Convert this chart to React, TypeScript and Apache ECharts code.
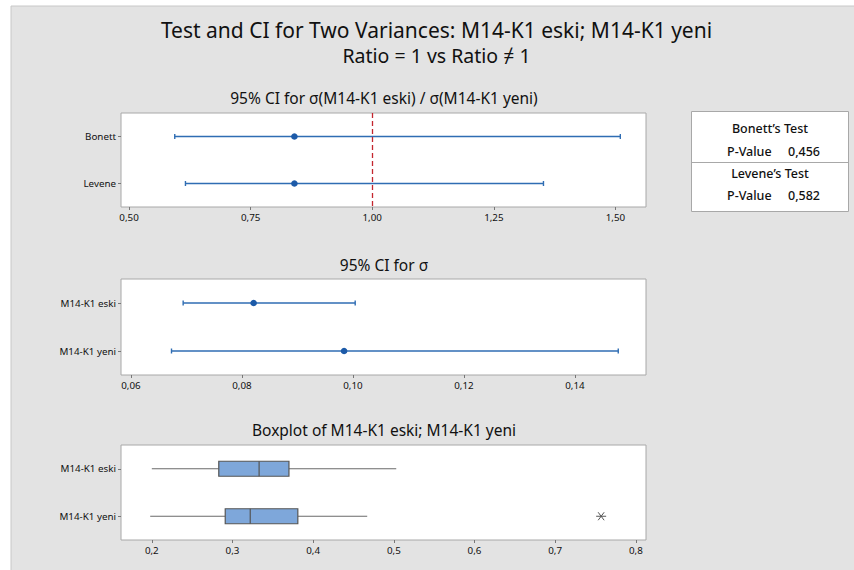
import React, { useEffect, useRef } from "react";
import * as echarts from "echarts";

const mainTitle = "Test and CI for Two Variances: M14-K1 eski; M14-K1 yeni";
const subTitle = "Ratio = 1 vs Ratio \u2260 1";

const ratioTitle = "95% CI for \u03c3(M14-K1 eski) / \u03c3(M14-K1 yeni)";
const ratioCategories = ["Bonett", "Levene"];
const ratioLow = [0.594, 0.616];
const ratioEst = [0.84, 0.84];
const ratioHigh = [1.51, 1.352];
const ratioTicks = [0.5, 0.75, 1.0, 1.25, 1.5];
const ratioRef = 1.0;

const sigmaTitle = "95% CI for \u03c3";
const sigmaCategories = ["M14-K1 eski", "M14-K1 yeni"];
const sigmaLow = [0.0694, 0.0673];
const sigmaEst = [0.0821, 0.0984];
const sigmaHigh = [0.1004, 0.1478];
const sigmaTicks = [0.06, 0.08, 0.1, 0.12, 0.14];

const boxTitle = "Boxplot of M14-K1 eski; M14-K1 yeni";
const boxCategories = ["M14-K1 eski", "M14-K1 yeni"];
const boxMin = [0.2, 0.198];
const boxQ1 = [0.283, 0.291];
const boxMedian = [0.333, 0.322];
const boxQ3 = [0.37, 0.381];
const boxMax = [0.503, 0.467];
const outlierCategoryIndex = [1];
const outlierValues = [0.757];
const boxTicks = [0.2, 0.3, 0.4, 0.5, 0.6, 0.7, 0.8];

const testNames = ["Bonett\u2019s Test", "Levene\u2019s Test"];
const pValues = [0.456, 0.582];

const FONT = "Noto Sans";
const TXT = "#111";

const comma = (d: number) => (v: number) => v.toFixed(d).replace(".", ",");

function ciRender(params: any, api: any) {
  const cat = api.value(0);
  const lo = api.coord([api.value(1), cat]);
  const est = api.coord([api.value(2), cat]);
  const hi = api.coord([api.value(3), cat]);
  const stroke = { stroke: "#2f6db3", lineWidth: 1.4 };
  const cap = 2.5;
  return {
    type: "group",
    children: [
      { type: "line", shape: { x1: lo[0], y1: lo[1], x2: hi[0], y2: hi[1] }, style: stroke },
      { type: "line", shape: { x1: lo[0], y1: lo[1] - cap, x2: lo[0], y2: lo[1] + cap }, style: stroke },
      { type: "line", shape: { x1: hi[0], y1: hi[1] - cap, x2: hi[0], y2: hi[1] + cap }, style: stroke },
      { type: "circle", shape: { cx: est[0], cy: est[1], r: 3.3 }, style: { fill: "#1c5aa8" } },
    ],
  };
}

function boxRender(params: any, api: any) {
  const cat = api.value(0);
  const pMin = api.coord([api.value(1), cat]);
  const pQ1 = api.coord([api.value(2), cat]);
  const pMed = api.coord([api.value(3), cat]);
  const pQ3 = api.coord([api.value(4), cat]);
  const pMax = api.coord([api.value(5), cat]);
  const h = 7.5;
  const wl = { stroke: "#6a6a6a", lineWidth: 1.2 };
  return {
    type: "group",
    children: [
      { type: "line", shape: { x1: pMin[0], y1: pMin[1], x2: pQ1[0], y2: pQ1[1] }, style: wl },
      { type: "line", shape: { x1: pQ3[0], y1: pQ3[1], x2: pMax[0], y2: pMax[1] }, style: wl },
      {
        type: "rect",
        shape: { x: pQ1[0], y: pQ1[1] - h, width: pQ3[0] - pQ1[0], height: 2 * h },
        style: { fill: "#7ea7da", stroke: "#555", lineWidth: 1.2 },
      },
      { type: "line", shape: { x1: pMed[0], y1: pMed[1] - h, x2: pMed[0], y2: pMed[1] + h }, style: { stroke: "#555", lineWidth: 1.2 } },
    ],
  };
}

function starRender(params: any, api: any) {
  const p = api.coord([api.value(1), api.value(0)]);
  const s = { stroke: "#555", lineWidth: 1 };
  return {
    type: "group",
    children: [
      { type: "line", shape: { x1: p[0] - 5, y1: p[1], x2: p[0] + 5, y2: p[1] }, style: s },
      { type: "line", shape: { x1: p[0] - 3, y1: p[1] - 4, x2: p[0] + 3, y2: p[1] + 4 }, style: s },
      { type: "line", shape: { x1: p[0] - 3, y1: p[1] + 4, x2: p[0] + 3, y2: p[1] - 4 }, style: s },
    ],
  };
}

function makeX(gridIndex: number, min: number, max: number, ticks: number[], dec: number) {
  return {
    type: "value",
    gridIndex,
    min,
    max,
    axisLine: { show: false },
    splitLine: { show: false },
    axisTick: { show: true, customValues: ticks, length: 3, lineStyle: { color: "#777" } },
    axisLabel: {
      customValues: ticks,
      formatter: comma(dec),
      fontFamily: FONT,
      fontSize: 9.8,
      color: TXT,
      margin: 5,
    },
  };
}

function makeY(gridIndex: number, cats: string[]) {
  return {
    type: "category",
    gridIndex,
    data: cats,
    inverse: true,
    axisLine: { show: false },
    splitLine: { show: false },
    axisTick: { show: true, alignWithLabel: true, length: 3, lineStyle: { color: "#777" } },
    axisLabel: { fontFamily: FONT, fontSize: 9.8, color: TXT, margin: 5 },
  };
}

export default function App() {
  const ref = useRef<HTMLDivElement>(null);
  useEffect(() => {
    if (!ref.current) return;
    const chart = echarts.init(ref.current, null, { renderer: "svg" });
    const gridStyle = { show: true, backgroundColor: "#fff", borderColor: "#a8a8a8", borderWidth: 1 };
    const ratioData = ratioCategories.map((_, i) => [i, ratioLow[i], ratioEst[i], ratioHigh[i]]);
    const sigmaData = sigmaCategories.map((_, i) => [i, sigmaLow[i], sigmaEst[i], sigmaHigh[i]]);
    const boxData = boxCategories.map((_, i) => [i, boxMin[i], boxQ1[i], boxMedian[i], boxQ3[i], boxMax[i]]);
    const outData = outlierValues.map((v, i) => [outlierCategoryIndex[i], v]);

    const titleText = (text: string, x: number, y: number, size: number) => ({
      type: "text",
      x,
      y,
      z: 10,
      style: { text, fontFamily: FONT, fontSize: size, fill: TXT, align: "center", verticalAlign: "middle" },
    });
    const boxText = (text: string, x: number, y: number, align: string) => ({
      type: "text",
      x,
      y,
      z: 11,
      style: { text, fontFamily: FONT, fontSize: 12.5, fontWeight: 500, fill: TXT, align, verticalAlign: "middle" },
    });

    chart.setOption({
      animation: false,
      backgroundColor: "#fff",
      grid: [
        { left: 121, top: 113, width: 525, height: 94, ...gridStyle },
        { left: 121, top: 279, width: 525, height: 96, ...gridStyle },
        { left: 121, top: 445, width: 525, height: 95, ...gridStyle },
      ],
      xAxis: [
        makeX(0, 0.4835, 1.5628, ratioTicks, 2),
        makeX(1, 0.0582, 0.1528, sigmaTicks, 2),
        makeX(2, 0.1618, 0.8126, boxTicks, 1),
      ],
      yAxis: [makeY(0, ratioCategories), makeY(1, sigmaCategories), makeY(2, boxCategories)],
      series: [
        {
          type: "custom",
          xAxisIndex: 0,
          yAxisIndex: 0,
          data: ratioData,
          encode: { x: [1, 2, 3], y: 0 },
          renderItem: ciRender,
          markLine: {
            silent: true,
            symbol: "none",
            label: { show: false },
            lineStyle: { color: "#c4262e", type: [5, 3], width: 1.3 },
            data: [{ xAxis: ratioRef }],
          },
        },
        {
          type: "custom",
          xAxisIndex: 1,
          yAxisIndex: 1,
          data: sigmaData,
          encode: { x: [1, 2, 3], y: 0 },
          renderItem: ciRender,
        },
        {
          type: "custom",
          xAxisIndex: 2,
          yAxisIndex: 2,
          data: boxData,
          encode: { x: [1, 2, 3, 4, 5], y: 0 },
          renderItem: boxRender,
        },
        {
          type: "custom",
          xAxisIndex: 2,
          yAxisIndex: 2,
          data: outData,
          encode: { x: 1, y: 0 },
          renderItem: starRender,
        },
      ],
      graphic: [
        {
          type: "rect",
          z: -10,
          shape: { x: 11, y: 6, width: 850, height: 570 },
          style: { fill: "#e3e3e3", stroke: "#c8c8c8", lineWidth: 1 },
        },
        titleText(mainTitle, 436.5, 29.5, 21),
        titleText(subTitle, 436.5, 55.5, 19.5),
        titleText(ratioTitle, 384, 98, 15.5),
        titleText(sigmaTitle, 384, 265, 15.5),
        titleText(boxTitle, 384, 430, 15.5),
        {
          type: "rect",
          z: 10,
          shape: { x: 691.5, y: 111.5, width: 157, height: 100 },
          style: { fill: "#fff", stroke: "#a8a8a8", lineWidth: 1 },
        },
        {
          type: "line",
          z: 11,
          shape: { x1: 691.5, y1: 162.5, x2: 848.5, y2: 162.5 },
          style: { stroke: "#a8a8a8", lineWidth: 1 },
        },
        boxText(testNames[0], 770, 128, "center"),
        boxText("P-Value", 727, 151, "left"),
        boxText(comma(3)(pValues[0]), 788, 151, "left"),
        boxText(testNames[1], 770, 173, "center"),
        boxText("P-Value", 727, 195, "left"),
        boxText(comma(3)(pValues[1]), 788, 195, "left"),
      ],
    });
    return () => chart.dispose();
  }, []);
  return <div ref={ref} style={{ position: "absolute", left: 0, top: 0, width: 854, height: 570 }} />;
}
